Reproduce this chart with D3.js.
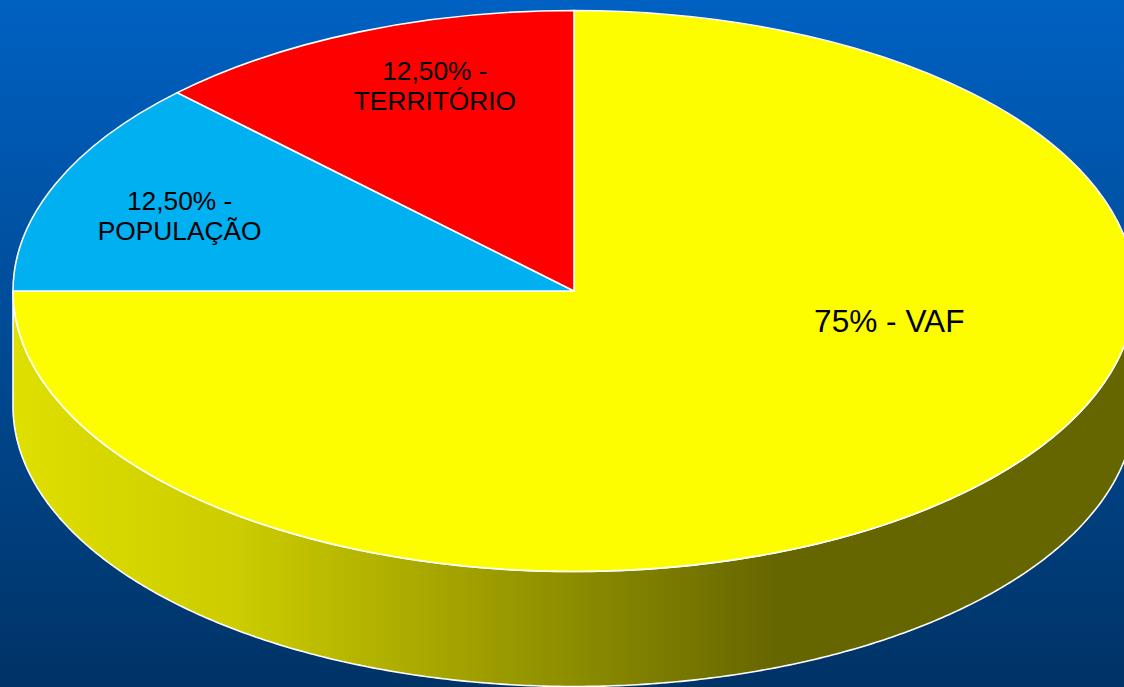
<!DOCTYPE html>
<html>
<head>
<meta charset="utf-8">
<script src="https://cdn.jsdelivr.net/npm/d3@7"></script>
<style>
html, body { margin: 0; padding: 0; overflow: hidden; background: #003366; }
svg { display: block; }
text { font-family: "Liberation Sans", Arial, sans-serif; fill: #000; text-anchor: middle; }
</style>
</head>
<body>
<div id="chart"></div>
<script>
var shares = [75, 12.5, 12.5];
var sliceColors = ["#fdfd00", "#00b0f0", "#ff0000"];
var labelLines = [["75% - VAF"], ["12,50% -", "POPULAÇÃO"], ["12,50% -", "TERRITÓRIO"]];

var w = 1124, h = 687;
var cx = 574, cy = 291;
var rx = 561, ry = 280.5;
var depth = 115;

var svg = d3.select("#chart").append("svg")
  .attr("width", w)
  .attr("height", h);

var defs = svg.append("defs");

var bg = defs.append("linearGradient")
  .attr("id", "bg")
  .attr("x1", 0).attr("y1", 0)
  .attr("x2", 0).attr("y2", 1);
bg.append("stop").attr("offset", "0%").attr("stop-color", "#0061c2");
bg.append("stop").attr("offset", "100%").attr("stop-color", "#003366");

// wall shading runs left to right, flat after the dark stop
var wallGrad = defs.append("linearGradient")
  .attr("id", "wall")
  .attr("gradientUnits", "userSpaceOnUse")
  .attr("x1", cx - rx).attr("y1", 0)
  .attr("x2", cx + rx).attr("y2", 0);
wallGrad.append("stop").attr("offset", "0%").attr("stop-color", "#dfdf00");
wallGrad.append("stop").attr("offset", "20%").attr("stop-color", "#cccc00");
wallGrad.append("stop").attr("offset", "68%").attr("stop-color", "#666600");
wallGrad.append("stop").attr("offset", "100%").attr("stop-color", "#666600");

svg.append("rect")
  .attr("width", w)
  .attr("height", h)
  .attr("fill", "url(#bg)");

var x = d3.scaleLinear().domain([-1, 1]).range([cx - rx, cx + rx]);
var y = d3.scaleLinear().domain([-1, 1]).range([cy - ry, cy + ry]);

var pie = d3.pie().sort(null).value(function(d) { return d; });
var slices = pie(shares);

// front half of the rim, from 3 o'clock round to 9 o'clock
var rimAngles = d3.range(Math.PI / 2, 3 * Math.PI / 2 + 0.001, Math.PI / 360);

var wall = d3.area()
  .x(function(a) { return x(Math.sin(a)); })
  .y0(function(a) { return y(-Math.cos(a)); })
  .y1(function(a) { return y(-Math.cos(a)) + depth; });

svg.append("path")
  .datum(rimAngles)
  .attr("d", wall)
  .attr("fill", "url(#wall)")
  .attr("stroke", "#fff")
  .attr("stroke-width", 1.6);

var arc = d3.arc().innerRadius(0).outerRadius(rx);

var face = svg.append("g")
  .attr("transform", "translate(" + cx + "," + cy + ") scale(1," + (ry / rx) + ")");

face.selectAll("path")
  .data(slices)
  .enter()
  .append("path")
  .attr("d", arc)
  .attr("fill", function(d, i) { return sliceColors[i]; })
  .attr("stroke", "#fff")
  .attr("stroke-width", 1.6)
  .attr("vector-effect", "non-scaling-stroke");

// label anchors, in unit circle terms per slice
var labelPos = [[0.562, 0.147], [-0.703, -0.288], [-0.248, -0.752]];
var labelSize = [31.6, 26.3, 26.3];
var lineStep = 30;

var labels = svg.selectAll("text.label")
  .data(labelLines)
  .enter()
  .append("text")
  .attr("class", "label")
  .attr("font-size", function(d, i) { return labelSize[i]; })
  .attr("transform", function(d, i) {
    return "translate(" + x(labelPos[i][0]) + "," + y(labelPos[i][1]) + ")";
  });

labels.selectAll("tspan")
  .data(function(d) { return d; })
  .enter()
  .append("tspan")
  .attr("x", 0)
  .attr("y", function(d, i) { return i * lineStep; })
  .text(function(d) { return d; });
</script>
</body>
</html>
